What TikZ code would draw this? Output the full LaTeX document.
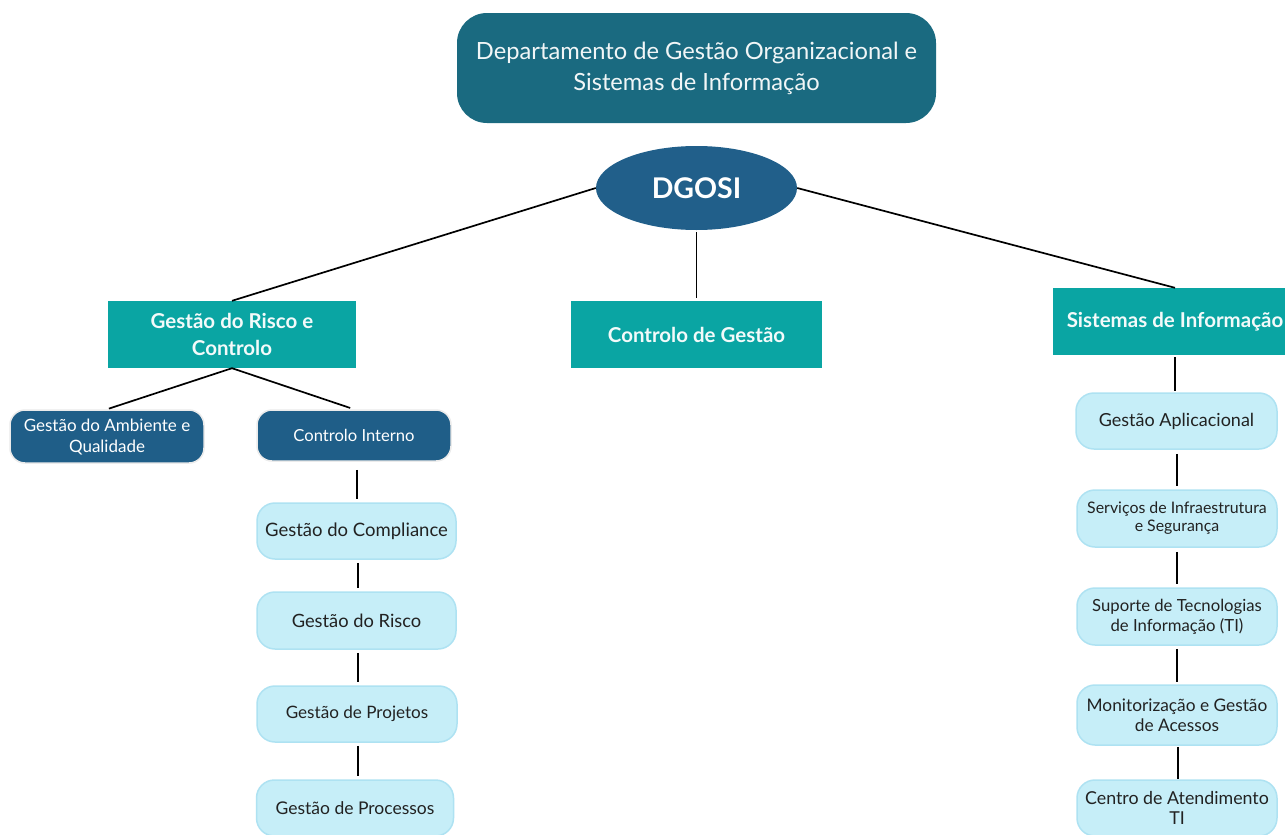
\documentclass[tikz,border=0pt]{standalone}
\usepackage{fontspec}
\setmainfont{Lato}
\usetikzlibrary{shapes.geometric}
\definecolor{deptblue}{HTML}{1A6A80}
\definecolor{ovalblue}{HTML}{215F8A}
\definecolor{unitteal}{HTML}{0AA5A3}
\definecolor{subblue}{HTML}{1F5E88}
\definecolor{lightfill}{HTML}{C6EEF8}
\definecolor{lightedge}{HTML}{AEE2F2}
\definecolor{inktext}{HTML}{222222}
\tikzset{
  fs/.style 2 args={font=\fontsize{#1}{#2}\selectfont},
  deptbox/.style={rectangle, rounded corners=30pt, fill=deptblue, text=white!94!deptblue,
    inner sep=0pt, align=center, fs={23.7}{31}},
  oval/.style={ellipse, fill=ovalblue, text=white, inner sep=0pt, font=\fontsize{28.5}{30}\selectfont\bfseries},
  unitbox/.style={rectangle, fill=unitteal, text=white!95!unitteal, inner sep=0pt, align=center,
    font=\fontsize{20.5}{27}\selectfont\bfseries},
  subbox/.style={rectangle, rounded corners=15pt, fill=subblue, draw=black!8, line width=1.5pt,
    text=white, inner sep=0pt, align=center, fs={17}{21}},
  leafbox/.style={rectangle, rounded corners=18pt, fill=lightfill, draw=lightedge, line width=1.5pt,
    text=inktext, inner sep=0pt, align=center, fs={17.5}{20}},
  link/.style={draw=black, line width=1.7pt},
  vlink/.style={link, line width=2pt}
}
\begin{document}
\begin{tikzpicture}[x=1pt, y=-1pt]
\useasboundingbox[fill=white] (0,0) rectangle (1285,835);

% department header and acronym
\node[deptbox, minimum width=479pt, minimum height=110pt] (dept) at (696.5,68)
  {Departamento de Gestão Organizacional e\\Sistemas de Informação};
\node[oval, minimum width=201pt, minimum height=84pt] (dgosi) at (696.5,188) {DGOSI};

% main units
\node[unitbox, minimum width=248pt, minimum height=67pt] (grc) at (232,334.5) {Gestão do Risco e\\Controlo};
\node[unitbox, minimum width=251pt, minimum height=67pt] (cdg) at (696.5,334.5) {Controlo de Gestão};
\node[unitbox, minimum width=244pt, minimum height=67pt] (si) at (1175,321.5) {Sistemas de Informação};

% risk and control sub-units
\node[subbox, minimum width=194pt, minimum height=53pt] (amb) at (107,436.5) {Gestão do Ambiente e\\Qualidade};
\node[subbox, minimum width=194pt, minimum height=51pt, fs={16.6}{20}] (ci) at (354,435.5) {Controlo Interno};
\node[leafbox, minimum width=199pt, minimum height=56pt, fs={18.5}{20}] (comp) at (356.5,531) {Gestão do Compliance};
\node[leafbox, minimum width=199pt, minimum height=57pt, fs={18.3}{20}] (risco) at (356.5,620.5) {Gestão do Risco};
\node[leafbox, minimum width=200pt, minimum height=56pt, fs={17.1}{20}] (proj) at (357,714) {Gestão de Projetos};
\node[leafbox, minimum width=197pt, minimum height=56pt, fs={17.5}{20}] (proc) at (355,808) {Gestão de Processos};

% information systems sub-units
\node[leafbox, minimum width=201pt, minimum height=56pt, fs={18}{20}] (apl) at (1176.5,421) {Gestão Aplicacional};
\node[leafbox, minimum width=200pt, minimum height=57pt, fs={15.9}{18}] (infra) at (1177,518.5) {Serviços de Infraestrutura\\e Segurança};
\node[leafbox, minimum width=200pt, minimum height=57pt, fs={16.7}{20}] (sup) at (1177,616.5) {Suporte de Tecnologias\\de Informação (TI)};
\node[leafbox, minimum width=200pt, minimum height=60pt, fs={17.3}{20}] (mon) at (1177,715) {Monitorização e Gestão\\de Acessos};
\node[leafbox, minimum width=200pt, minimum height=56pt, fs={17.8}{20}] (cat) at (1177,808) {Centro de Atendimento\\TI};

% connectors
\draw[link] (dgosi.west) -- (grc.north);
\draw[link, shorten <=2pt, shorten >=3pt] (dgosi.south) -- (cdg.north);
\draw[link] (dgosi.east) -- (si.north);
\draw[link, shorten >=2pt] (grc.south) -- (amb.north);
\draw[link, shorten >=4pt] (grc.south) -- (ci.north);
\draw[vlink, shorten <=8pt, shorten >=3pt] ([xshift=3pt]ci.south) -- ([xshift=3pt]ci.south |- comp.north);
\draw[vlink, shorten <=3pt, shorten >=3pt] ([xshift=1.5pt]comp.south) -- ([xshift=1.5pt]comp.south |- risco.north);
\draw[vlink, shorten <=3pt, shorten >=3pt] ([xshift=1.5pt]risco.south) -- ([xshift=1.5pt]risco.south |- proj.north);
\draw[vlink, shorten <=3pt, shorten >=3pt] ([xshift=1pt]proj.south) -- ([xshift=1pt]proj.south |- proc.north);
\draw[vlink, shorten <=2pt, shorten >=1pt] (si.south) -- (si.south |- apl.north);
\draw[vlink, shorten <=4pt, shorten >=3pt] (apl.south) -- (apl.south |- infra.north);
\draw[vlink, shorten <=4pt, shorten >=3pt] (infra.south) -- (infra.south |- sup.north);
\draw[vlink, shorten <=3pt, shorten >=2pt] (sup.south) -- (sup.south |- mon.north);
\draw[vlink, shorten <=1pt, shorten >=0pt] ([xshift=1pt]mon.south) -- ([xshift=1pt]mon.south |- cat.north);
\end{tikzpicture}
\end{document}
